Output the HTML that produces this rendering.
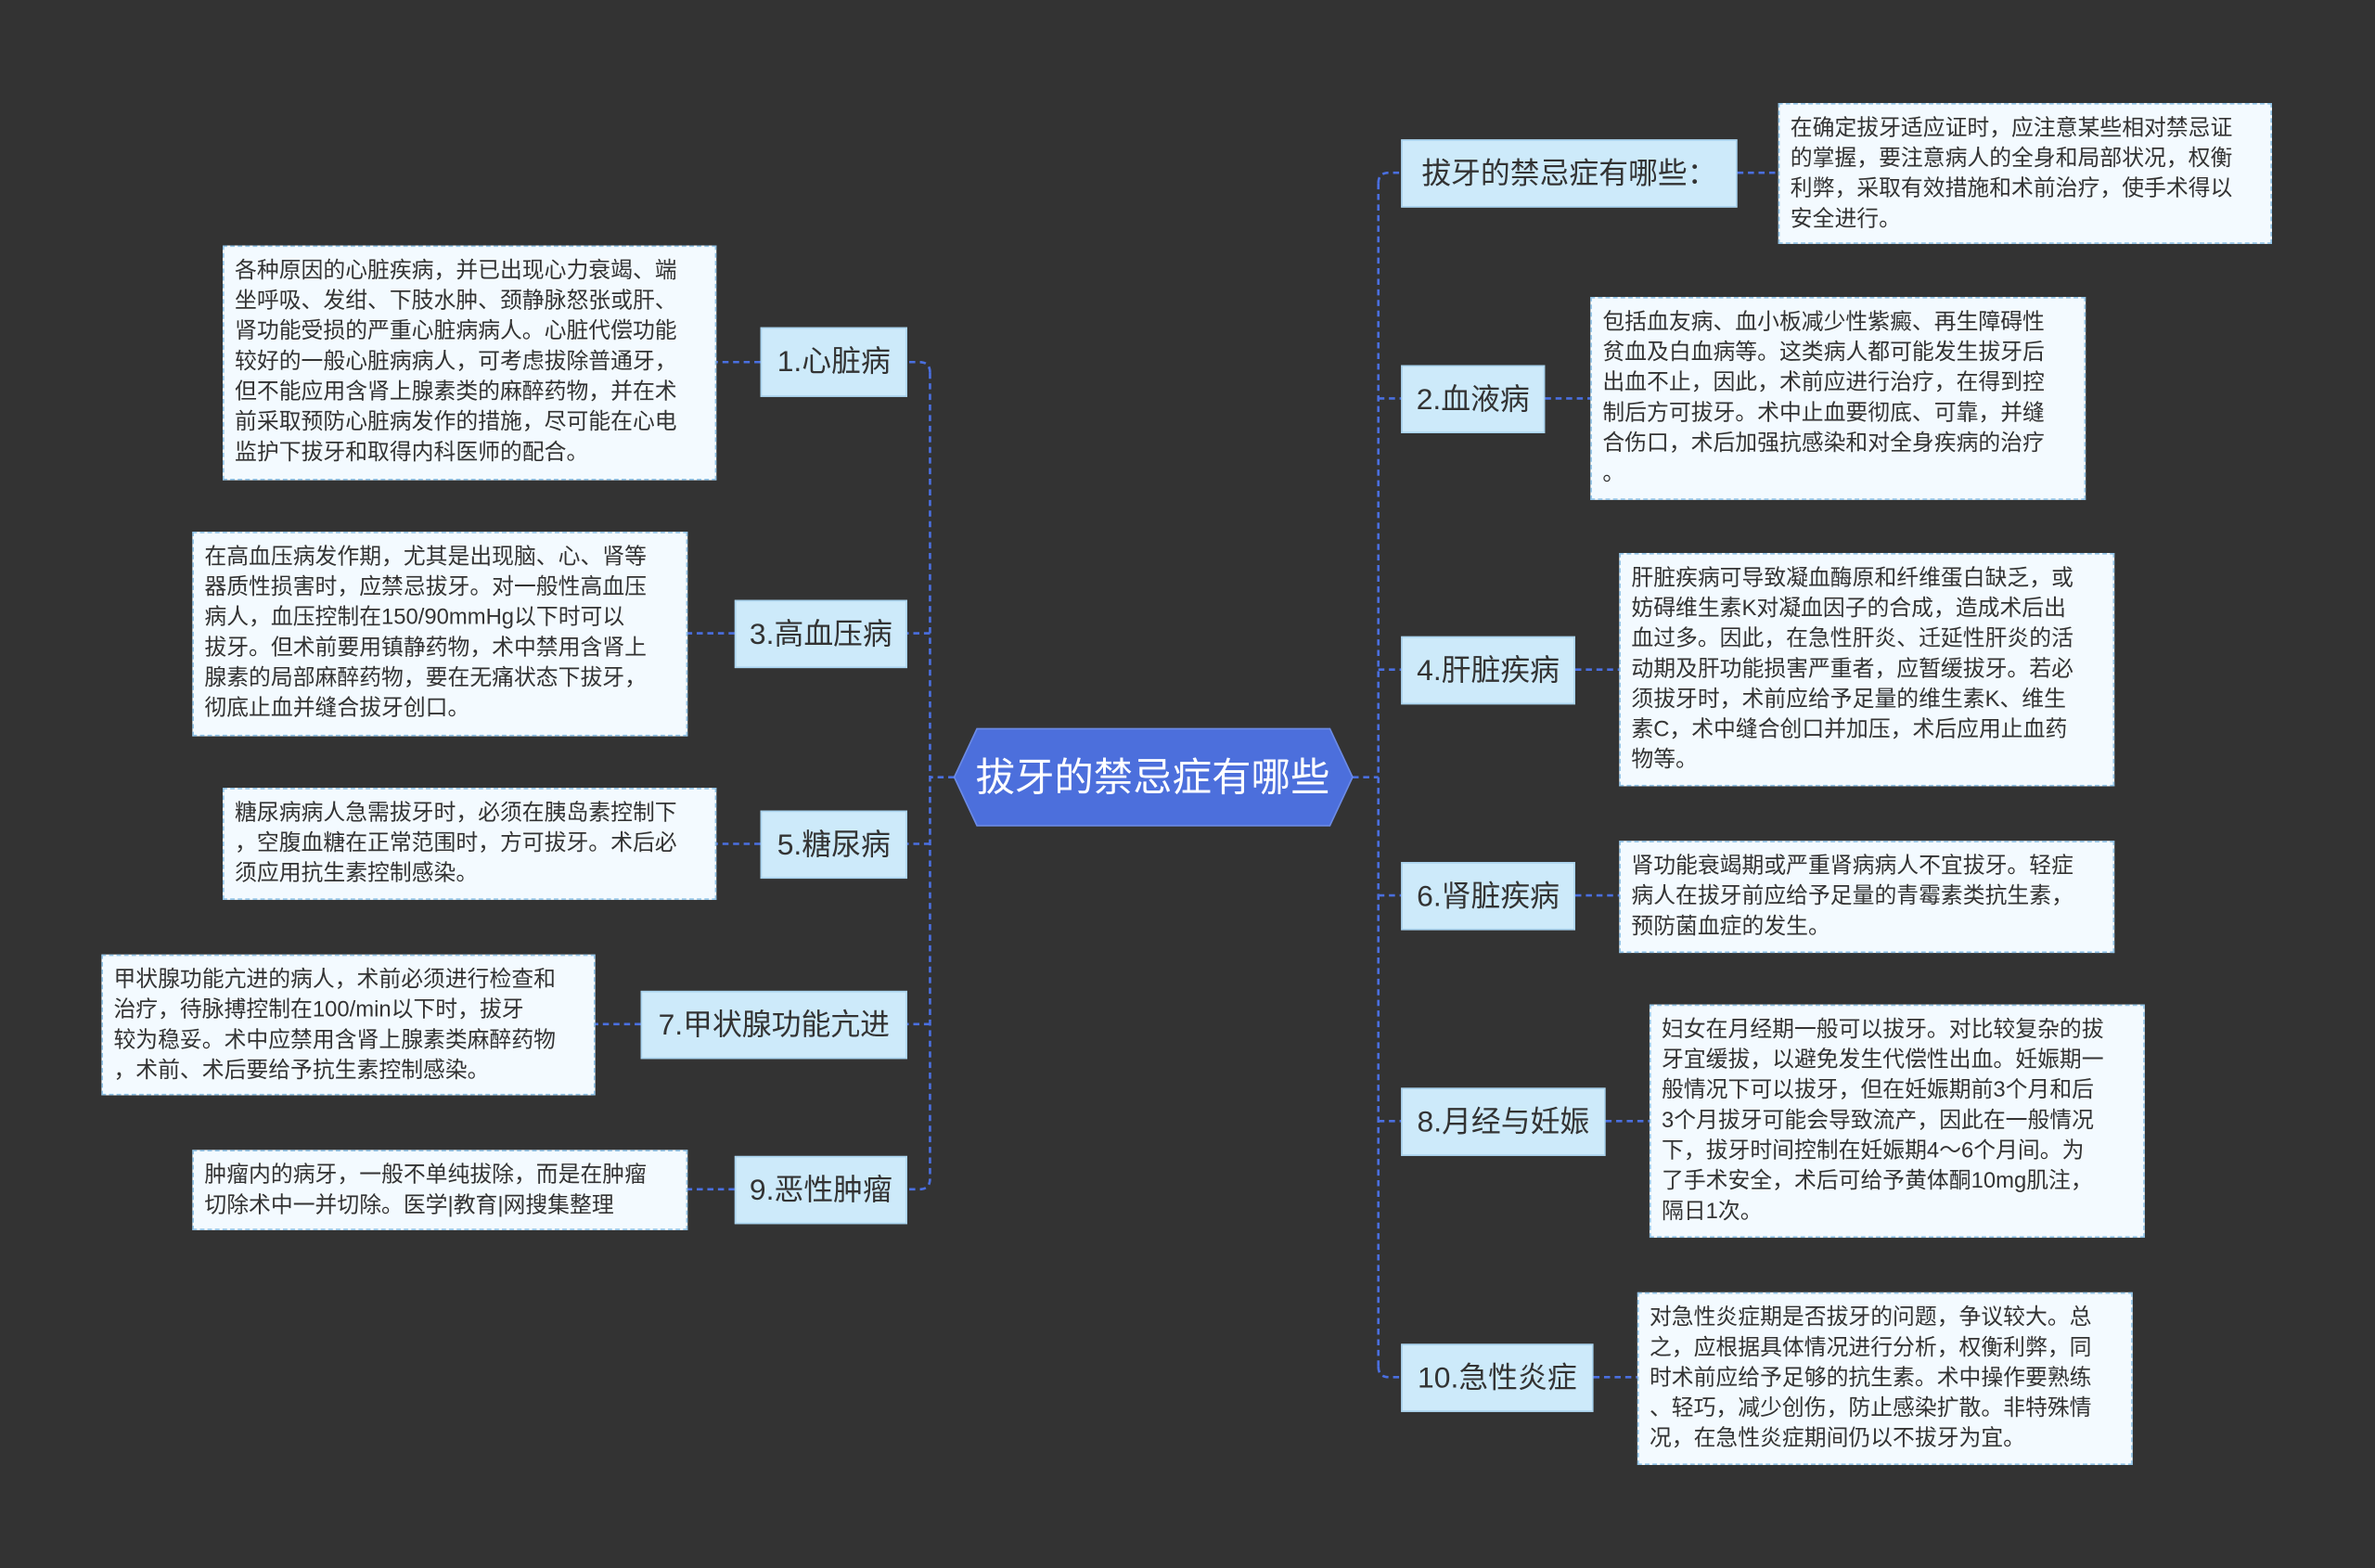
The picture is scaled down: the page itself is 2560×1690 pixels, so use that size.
<!DOCTYPE html>
<html><head><meta charset="utf-8">
<style>
html,body{margin:0;padding:0;background:#333333;width:2560px;height:1690px;overflow:hidden}
#s{position:absolute;left:0;top:0;width:1568px;height:1035px;transform:scale(1.63265,1.63285);transform-origin:0 0;font-family:"Liberation Sans","Noto Sans CJK SC",sans-serif}
.n{position:absolute;background:#cdeafa;border:1px solid #a9d3ee;color:#333;font-size:19.5px;line-height:44px;text-align:center;box-sizing:border-box;white-space:nowrap}
.t{position:absolute;background:#f3faff;border:1px dashed #8fc2e6;color:#333;font-size:14.6px;line-height:20px;padding:6px 7px;box-sizing:border-box;white-space:nowrap;overflow:hidden}
svg{position:absolute;left:0;top:0}
</style></head><body><div id="s">
<svg width="1568" height="1035">
<g fill="none" stroke="#4a6fe0" stroke-width="1.6" stroke-dasharray="4,3">
<path d="M630 513 H614"/>
<path d="M614 246 V778"/>
<path d="M614 246 Q614 239 607 239 H599"/>
<path d="M614 418 H599"/><path d="M614 557 H599"/><path d="M614 676 H599"/>
<path d="M614 778 Q614 785 607 785 H599"/>
<path d="M893 513 H910"/>
<path d="M910 121 V902"/>
<path d="M910 121 Q910 114 917 114 H925"/>
<path d="M910 263 H925"/><path d="M910 442 H925"/><path d="M910 591 H925"/><path d="M910 740 H925"/>
<path d="M910 902 Q910 909 917 909 H925"/>
<path d="M502 239 H473"/><path d="M485 418 H454"/><path d="M502 557 H473"/><path d="M423 676 H393"/><path d="M485 785 H454"/>
<path d="M1147 114 H1174"/><path d="M1020 263 H1050"/><path d="M1040 442 H1069"/><path d="M1040 591 H1069"/><path d="M1060 740 H1089"/><path d="M1052 909 H1081"/>
</g>
<polygon points="645,481 878,481 893,513 878,545 645,545 630,513" fill="#4c6fdc" stroke="#6c8be6" stroke-width="1"/>
<text x="761" y="522" fill="#fff" font-size="26" text-anchor="middle" font-family="Liberation Sans, Noto Sans CJK SC, sans-serif">拔牙的禁忌症有哪些</text>
</svg>

<div class="n" style="left:502px;top:216px;width:97px;height:46px">1.心脏病</div>
<div class="n" style="left:485px;top:396px;width:114px;height:45px">3.高血压病</div>
<div class="n" style="left:502px;top:535px;width:97px;height:45px">5.糖尿病</div>
<div class="n" style="left:423px;top:654px;width:176px;height:45px">7.甲状腺功能亢进</div>
<div class="n" style="left:485px;top:763px;width:114px;height:45px">9.恶性肿瘤</div>

<div class="n" style="left:925px;top:92px;width:222px;height:45px">拔牙的禁忌症有哪些：</div>
<div class="n" style="left:925px;top:241px;width:95px;height:45px">2.血液病</div>
<div class="n" style="left:925px;top:420px;width:115px;height:45px">4.肝脏疾病</div>
<div class="n" style="left:925px;top:569px;width:115px;height:45px">6.肾脏疾病</div>
<div class="n" style="left:925px;top:718px;width:135px;height:45px">8.月经与妊娠</div>
<div class="n" style="left:925px;top:887px;width:127px;height:45px">10.急性炎症</div>

<div class="t" style="left:147px;top:162px;width:326px;height:155px">各种原因的心脏疾病，并已出现心力衰竭、端<br>坐呼吸、发绀、下肢水肿、颈静脉怒张或肝、<br>肾功能受损的严重心脏病病人。心脏代偿功能<br>较好的一般心脏病病人，可考虑拔除普通牙，<br>但不能应用含肾上腺素类的麻醉药物，并在术<br>前采取预防心脏病发作的措施，尽可能在心电<br>监护下拔牙和取得内科医师的配合。</div>
<div class="t" style="left:127px;top:351px;width:327px;height:135px">在高血压病发作期，尤其是出现脑、心、肾等<br>器质性损害时，应禁忌拔牙。对一般性高血压<br>病人，血压控制在150/90mmHg以下时可以<br>拔牙。但术前要用镇静药物，术中禁用含肾上<br>腺素的局部麻醉药物，要在无痛状态下拔牙，<br>彻底止血并缝合拔牙创口。</div>
<div class="t" style="left:147px;top:520px;width:326px;height:74px">糖尿病病人急需拔牙时，必须在胰岛素控制下<br>，空腹血糖在正常范围时，方可拔牙。术后必<br>须应用抗生素控制感染。</div>
<div class="t" style="left:67px;top:630px;width:326px;height:93px">甲状腺功能亢进的病人，术前必须进行检查和<br>治疗，待脉搏控制在100/min以下时，拔牙<br>较为稳妥。术中应禁用含肾上腺素类麻醉药物<br>，术前、术后要给予抗生素控制感染。</div>
<div class="t" style="left:127px;top:759px;width:327px;height:53px">肿瘤内的病牙，一般不单纯拔除，而是在肿瘤<br>切除术中一并切除。医学|教育|网搜集整理</div>

<div class="t" style="left:1174px;top:68px;width:326px;height:93px">在确定拔牙适应证时，应注意某些相对禁忌证<br>的掌握，要注意病人的全身和局部状况，权衡<br>利弊，采取有效措施和术前治疗，使手术得以<br>安全进行。</div>
<div class="t" style="left:1050px;top:196px;width:327px;height:134px">包括血友病、血小板减少性紫癜、再生障碍性<br>贫血及白血病等。这类病人都可能发生拔牙后<br>出血不止，因此，术前应进行治疗，在得到控<br>制后方可拔牙。术中止血要彻底、可靠，并缝<br>合伤口，术后加强抗感染和对全身疾病的治疗<br>。</div>
<div class="t" style="left:1069px;top:365px;width:327px;height:154px">肝脏疾病可导致凝血酶原和纤维蛋白缺乏，或<br>妨碍维生素K对凝血因子的合成，造成术后出<br>血过多。因此，在急性肝炎、迁延性肝炎的活<br>动期及肝功能损害严重者，应暂缓拔牙。若必<br>须拔牙时，术前应给予足量的维生素K、维生<br>素C，术中缝合创口并加压，术后应用止血药<br>物等。</div>
<div class="t" style="left:1069px;top:555px;width:327px;height:74px">肾功能衰竭期或严重肾病病人不宜拔牙。轻症<br>病人在拔牙前应给予足量的青霉素类抗生素，<br>预防菌血症的发生。</div>
<div class="t" style="left:1089px;top:663px;width:327px;height:154px">妇女在月经期一般可以拔牙。对比较复杂的拔<br>牙宜缓拔，以避免发生代偿性出血。妊娠期一<br>般情况下可以拔牙，但在妊娠期前3个月和后<br>3个月拔牙可能会导致流产，因此在一般情况<br>下，拔牙时间控制在妊娠期4～6个月间。为<br>了手术安全，术后可给予黄体酮10mg肌注，<br>隔日1次。</div>
<div class="t" style="left:1081px;top:853px;width:327px;height:114px">对急性炎症期是否拔牙的问题，争议较大。总<br>之，应根据具体情况进行分析，权衡利弊，同<br>时术前应给予足够的抗生素。术中操作要熟练<br>、轻巧，减少创伤，防止感染扩散。非特殊情<br>况，在急性炎症期间仍以不拔牙为宜。</div>
</div></body></html>
